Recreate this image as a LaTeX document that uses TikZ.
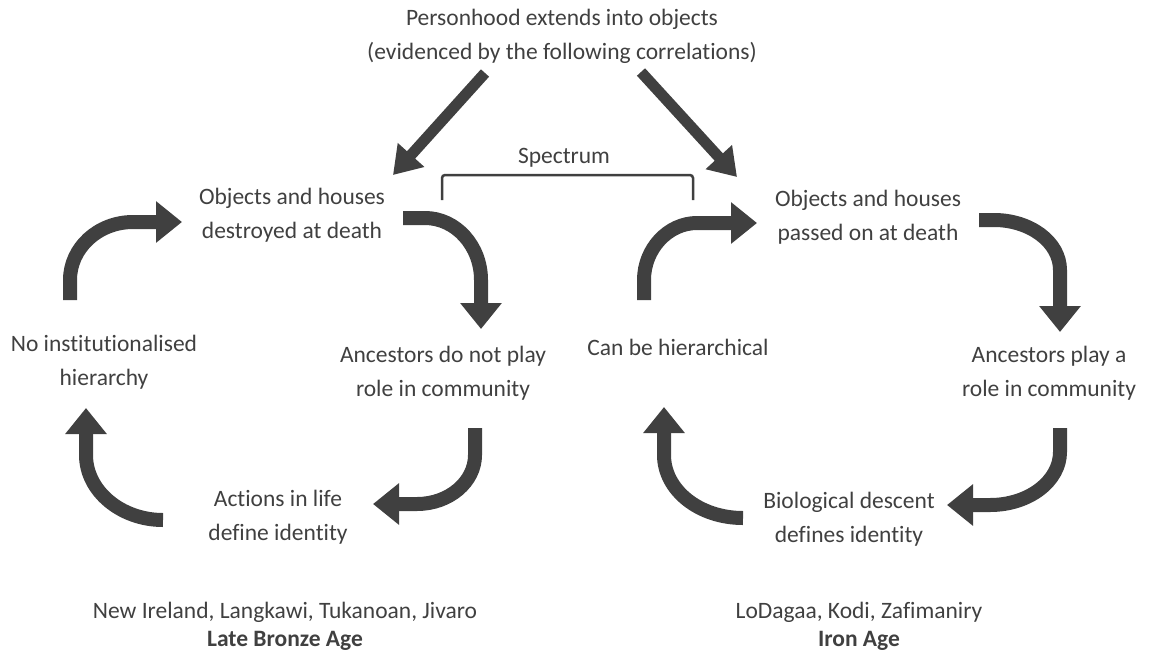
\documentclass[tikz,border=0pt]{standalone}
\usepackage{fontspec}
\setmainfont{Carlito}[Ligatures=NoCommon]
\usetikzlibrary{arrows.meta}
\definecolor{darkgrey}{RGB}{64,64,64}
\tikzset{
  lbl/.style={align=center,text=darkgrey,inner sep=0pt,font=\fontsize{23.5}{34}\selectfont},
  cyc/.style={draw=darkgrey,line width=14pt,-{Triangle[width=40pt,length=26pt]}},
  feed/.style={draw=darkgrey,line width=11pt,-{Triangle[width=34pt,length=27pt]}},
  brk/.style={draw=darkgrey,line width=2.5pt,rounded corners=3pt}
}

\begin{document}
\begin{tikzpicture}[x=1pt,y=-1pt]
  \useasboundingbox (0,0) rectangle (1153,664);
  % texts
  \node[lbl] (top) at (562,36) {Personhood extends into objects\\(evidenced by the following correlations)};
  \node[lbl] (spec) at (564,158) {Spectrum};
  \node[lbl] (destr) at (292,215) {Objects and houses\\destroyed at death};
  \node[lbl] (noinst) at (104,362) {No institutionalised\\hierarchy};
  \node[lbl] (ancno) at (443,373) {Ancestors do not play\\role in community};
  \node[lbl] (actions) at (278,517) {Actions in life\\define identity};
  \node[lbl] (passed) at (868,217) {Objects and houses\\passed on at death};
  \node[lbl] (canbe) at (678,347) {Can be hierarchical};
  \node[lbl] (ancyes) at (1049,373) {Ancestors play a\\role in community};
  \node[lbl] (bio) at (849,519) {Biological descent\\defines identity};
  \node[lbl] (exleft) at (285,612) {New Ireland, Langkawi, Tukanoan, Jivaro};
  \node[lbl,font=\fontsize{23.5}{34}\selectfont\bfseries] (ageleft) at (285,641) {Late Bronze Age};
  \node[lbl] (exright) at (859,612) {LoDagaa, Kodi, Zafimaniry};
  \node[lbl,font=\fontsize{23.5}{34}\selectfont\bfseries] (ageright) at (859,641) {Iron Age};

  % arrow ends
  \coordinate (t1a) at (485,73);  \coordinate (t1b) at (393,175);
  \coordinate (t2a) at (641,72);  \coordinate (t2b) at (737,177);
  \coordinate (spl) at (442,200); \coordinate (spr) at (693,200);
  \coordinate (l1a) at (70,300);  \coordinate (l1b) at (182,222);
  \coordinate (l2a) at (403,218); \coordinate (l2b) at (481,329);
  \coordinate (l3a) at (475,428); \coordinate (l3b) at (373,504);
  \coordinate (l4a) at (163,520); \coordinate (l4b) at (86,408);
  \coordinate (r1a) at (644,300); \coordinate (r1b) at (757,223);
  \coordinate (r2a) at (979,220); \coordinate (r2b) at (1060,332);
  \coordinate (r3a) at (1060,428); \coordinate (r3b) at (947,505);
  \coordinate (r4a) at (743,518); \coordinate (r4b) at (664,407);

  \draw[feed] (t1a) -- (t1b);
  \draw[feed] (t2a) -- (t2b);
  \draw[brk] (spl) -- ++(0,-25) -| (spr);

  % left cycle
  \draw[cyc] (l1a) -- ++(0,-20) .. controls +(0,-32) and +(-35,0) .. ++(63,-58) -- (l1b);
  \draw[cyc] (l2a) -- ++(22,0) .. controls +(31,0) and +(0,-34) .. ++(56,62) -- (l2b);
  \draw[cyc] (l3a) -- ++(0,27) .. controls +(0,27) and +(32,0) .. ++(-58,49) -- (l3b);
  \draw[cyc] (l4a) .. controls +(-42,0) and +(0,36) .. ++(-77,-65) -- (l4b);

  % right cycle
  \draw[cyc] (r1a) -- ++(0,-20) .. controls +(0,-31) and +(-29,0) .. ++(53,-57) -- (r1b);
  \draw[cyc] (r2a) -- ++(15,0) .. controls +(36,0) and +(0,-28) .. ++(66,50) -- (r2b);
  \draw[cyc] (r3a) -- ++(0,24) .. controls +(0,29) and +(39,0) .. ++(-70,53) -- (r3b);
  \draw[cyc] (r4a) .. controls +(-44,0) and +(0,35) .. ++(-79,-63) -- (r4b);
\end{tikzpicture}
\end{document}
